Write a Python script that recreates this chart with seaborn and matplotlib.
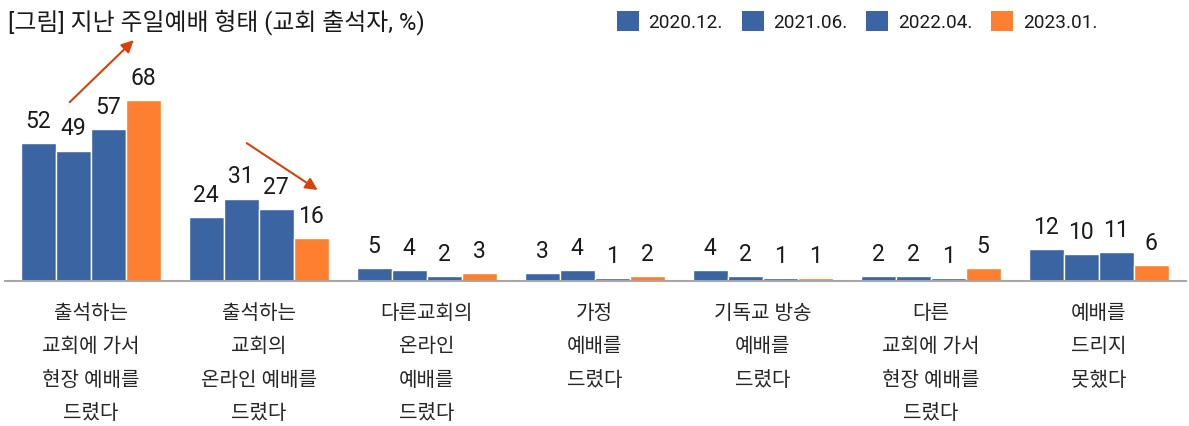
import matplotlib
matplotlib.use("Agg")
import matplotlib.pyplot as plt
import seaborn as sns
import pandas as pd

categories = ['출석하는\n교회에 가서\n현장 예배를\n드렸다',
              '출석하는\n교회의\n온라인 예배를\n드렸다',
              '다른교회의\n온라인\n예배를\n드렸다',
              '가정\n예배를\n드렸다',
              '기독교 방송\n예배를\n드렸다',
              '다른\n교회에 가서\n현장 예배를\n드렸다',
              '예배를\n드리지\n못했다']
periods = ['2020.12.', '2021.06.', '2022.04.', '2023.01.']
v2020_12 = [52, 24, 5, 3, 4, 2, 12]
v2021_06 = [49, 31, 4, 4, 2, 2, 10]
v2022_04 = [57, 27, 2, 1, 1, 1, 11]
v2023_01 = [68, 16, 3, 2, 1, 5, 6]
title = '[그림] 지난 주일예배 형태 (교회 출석자, %)'

BLUE = '#3A65A2'
ORANGE = '#FE7F2F'
ARROW = '#D5420C'

sns.set_theme(style='white')
plt.rcParams['font.family'] = ['Roboto', 'Noto Sans CJK KR', 'DejaVu Sans']
plt.rcParams['text.color'] = '#1a1a1a'

rows = []
for p, vals in zip(periods, [v2020_12, v2021_06, v2022_04, v2023_01]):
    for c, v in zip(categories, vals):
        rows.append({'category': c, 'period': p, 'value': v})
df = pd.DataFrame(rows)

W, H = 1189, 427
fig = plt.figure(figsize=(W / 100, H / 100), dpi=100)
ax = fig.add_axes([5 / W, (H - 282) / H, 1181 / W, 252 / H])

palette = {periods[0]: BLUE, periods[1]: BLUE, periods[2]: BLUE, periods[3]: ORANGE}
sns.barplot(data=df, x='category', y='value', hue='period', hue_order=periods,
            order=categories, palette=palette, width=0.833, gap=0,
            edgecolor='white', linewidth=1.0, saturation=1, ax=ax, legend=True)

for cont in ax.containers:
    ax.bar_label(cont, fmt='%d', padding=8, fontsize=16.5, color='#1a1a1a')

ax.set_xlim(-0.51, 6.52)
ax.set_ylim(0, 94.7)
ax.set_xlabel('')
ax.set_ylabel('')
ax.set_yticks([])
for s in ['top', 'right', 'left']:
    ax.spines[s].set_visible(False)
ax.spines['bottom'].set_color('#A6A6A6')
ax.spines['bottom'].set_linewidth(1.5)
ax.tick_params(axis='x', length=0, pad=15.5, labelsize=14.5)
for lab in ax.get_xticklabels():
    lab.set_linespacing(1.97)

# trend arrows
ax.annotate('', xy=(0.256, 90.5), xytext=(-0.125, 67.2),
            arrowprops=dict(arrowstyle='-|>', color=ARROW, lw=1.5,
                            mutation_scale=18, shrinkA=0, shrinkB=0))
ax.annotate('', xy=(1.351, 34.2), xytext=(0.929, 51.8),
            arrowprops=dict(arrowstyle='-|>', color=ARROW, lw=1.5,
                            mutation_scale=18, shrinkA=0, shrinkB=0))

sns.move_legend(ax, 'center right', bbox_to_anchor=(1097 / W, 1 - 22 / H),
                bbox_transform=fig.transFigure, ncol=4, frameon=False, title=None,
                fontsize=13.7, handlelength=1.15, handleheight=1.25,
                handletextpad=0.5, columnspacing=1.0, borderpad=0, borderaxespad=0)
for h in ax.get_legend().legend_handles:
    h.set_edgecolor('none')

fig.text(8 / W, 1 - 22 / H, title, ha='left', va='center', fontsize=17.2,
         color='#1a1a1a')

fig.savefig('out.png', dpi=100)
